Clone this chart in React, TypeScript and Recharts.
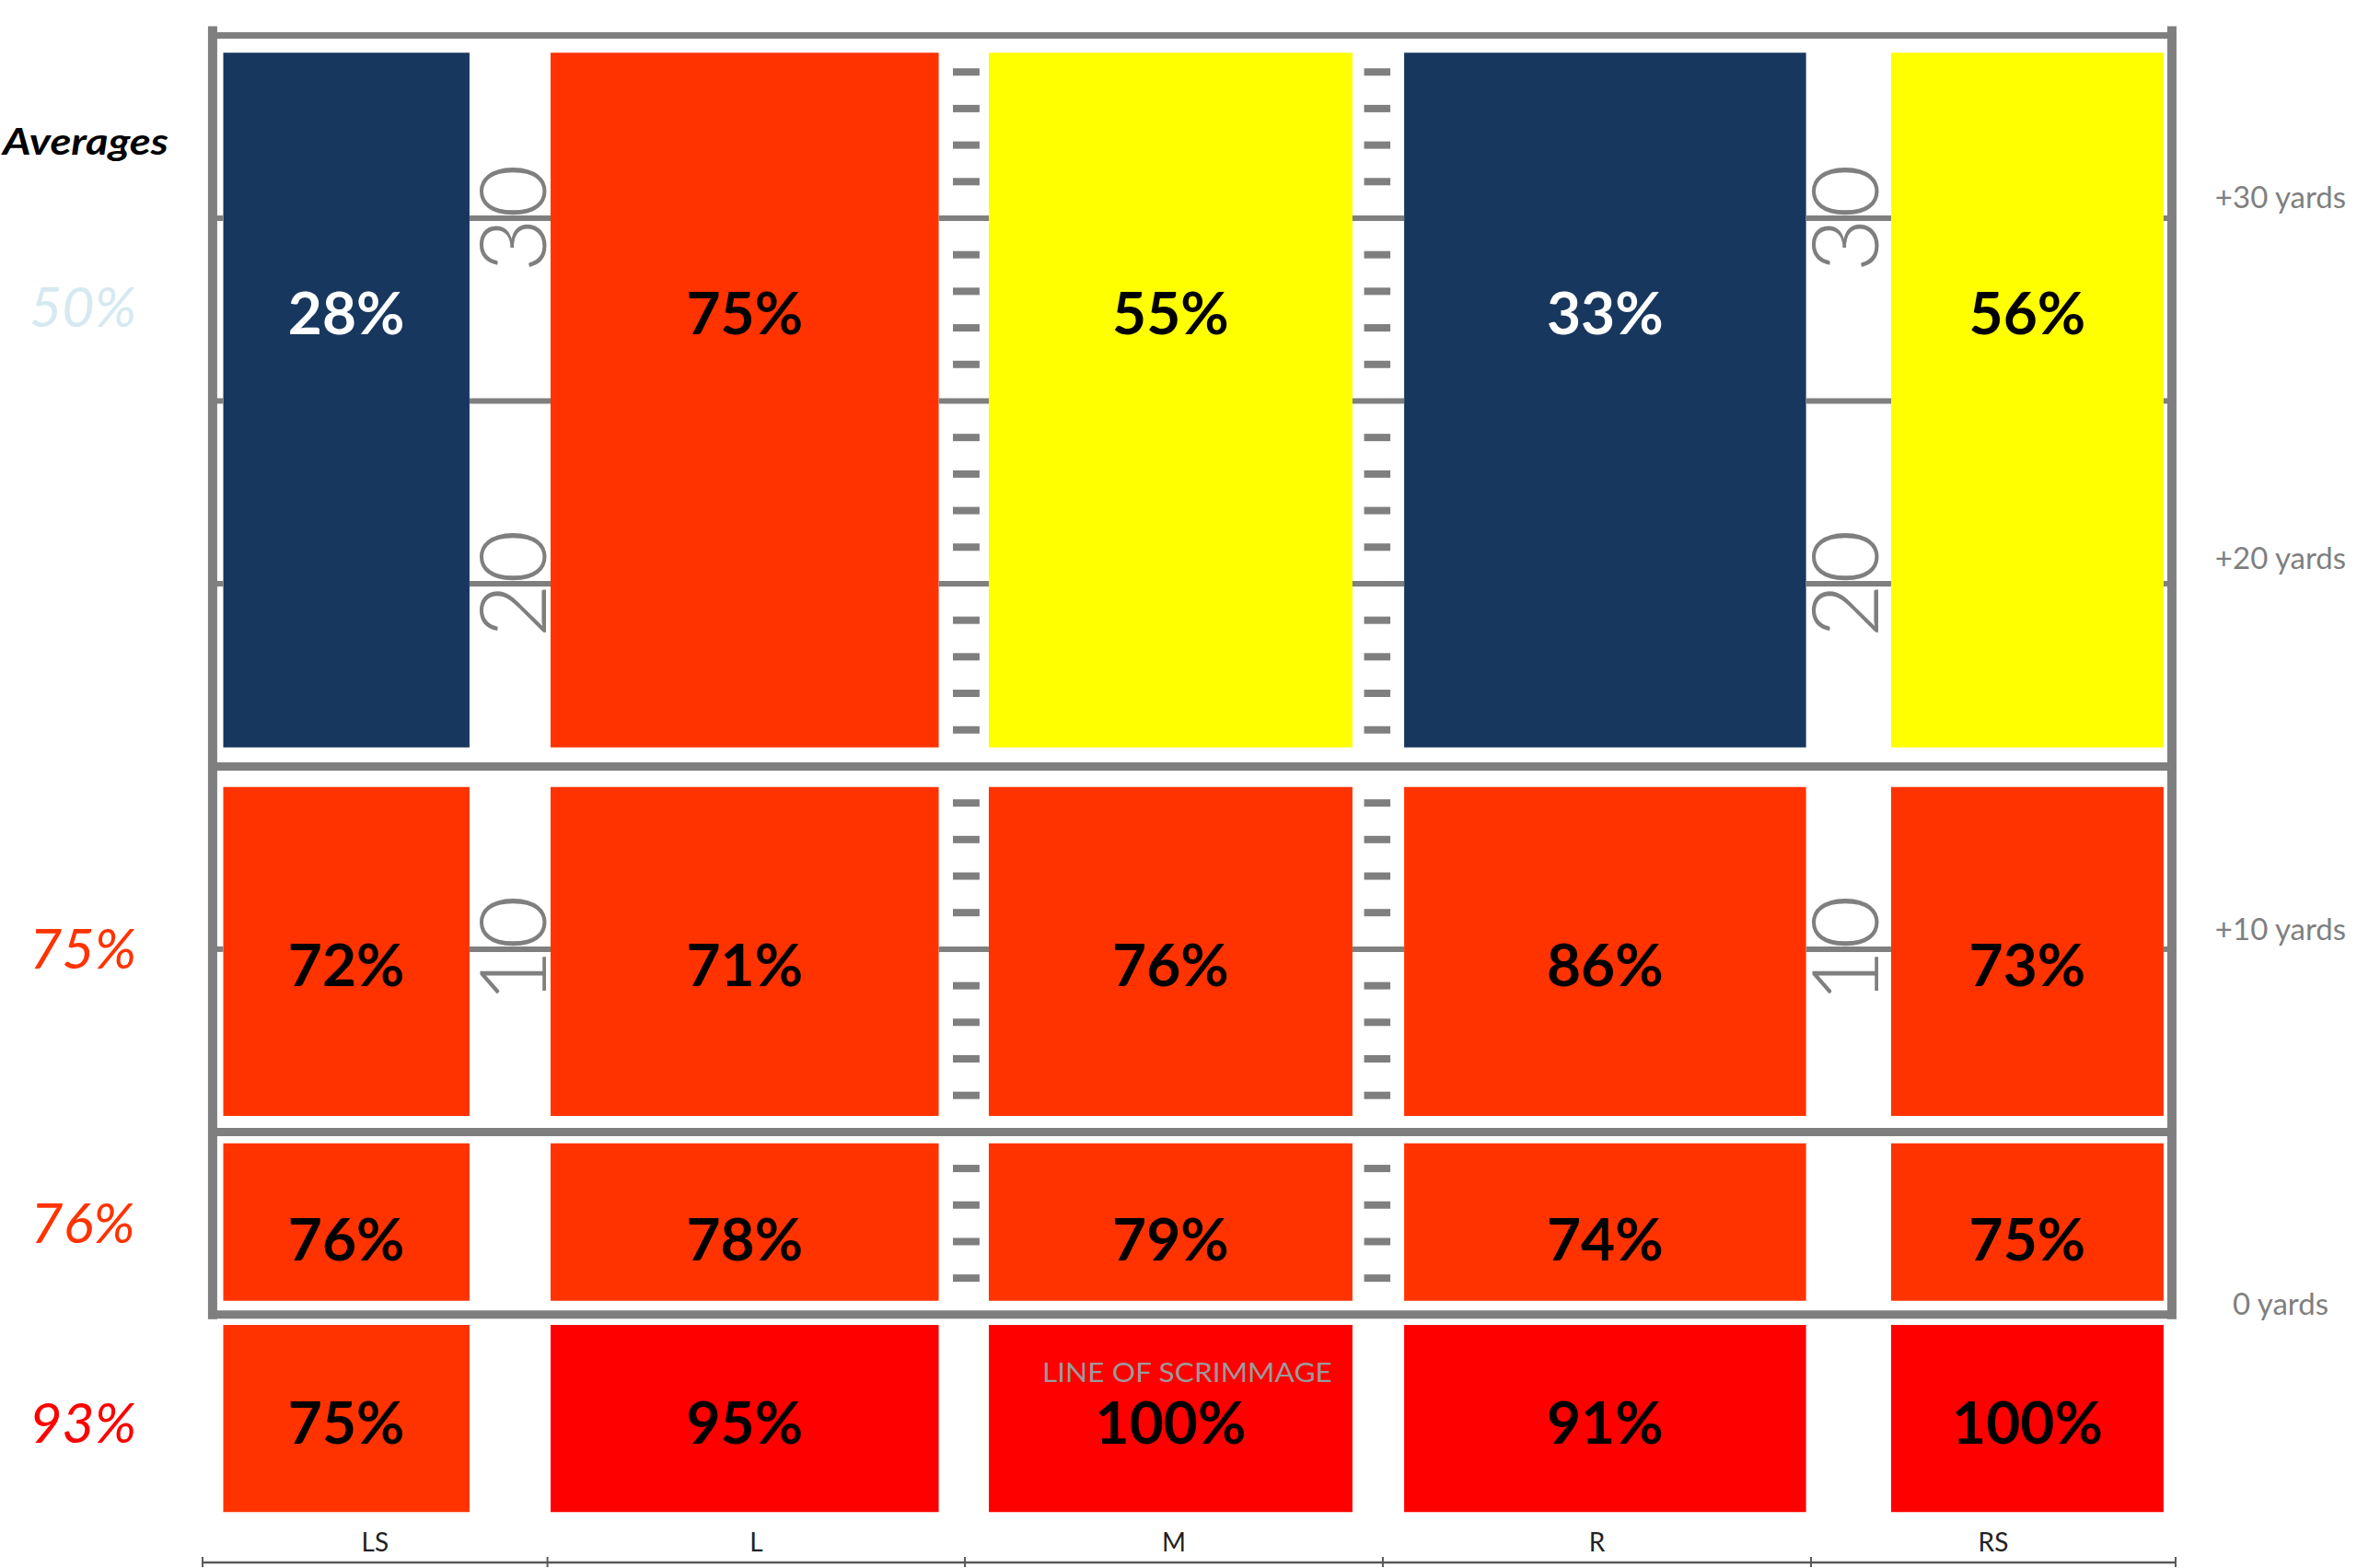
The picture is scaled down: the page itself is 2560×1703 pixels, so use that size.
import React from 'react';
import { ComposedChart, XAxis, YAxis, Scatter, ReferenceArea, ReferenceLine, ReferenceDot } from 'recharts';

// completion % by pass depth (rows) and field zone (columns)
const columns = ['LS', 'L', 'M', 'R', 'RS'];
const deepPct = [28, 75, 55, 33, 56]; // 15+ yards
const shortPct = [72, 71, 76, 86, 73]; // 5-15 yards
const flatPct = [76, 78, 79, 74, 75]; // 0-5 yards
const behindPct = [75, 95, 100, 91, 100]; // behind the line
const rowAverages = [50, 75, 76, 93];
const yardMarkers = ['+30 yards', '+20 yards', '+10 yards', '0 yards'];
const fieldNumbers = [30, 20, 10];

const FONT = "Lato, 'Open Sans', sans-serif";
const GRAY = '#7f7f7f';
const Y_MIN = -6.78;
const Y_MAX = 35.97;

// field layout: x runs 0-100 across the chart, y is yards from the line of scrimmage
const colSpans = [
  [1.05, 13.53],
  [17.64, 37.31],
  [39.85, 58.28],
  [60.9, 81.27],
  [85.58, 99.39],
];
const rowBands = [
  { values: deepPct, top: 34.53, bottom: 15.52, textAt: 27.4, avgAt: 27.58 },
  { values: shortPct, top: 14.44, bottom: 5.44, textAt: 9.57, avgAt: 10.03 },
  { values: flatPct, top: 4.69, bottom: 0.38, textAt: 2.07, avgAt: 2.52 },
  { values: behindPct, top: -0.28, bottom: -5.4, textAt: -2.95, avgAt: -2.96 },
];
const FRAME_L = 0.51;
const FRAME_R = 99.81;
const frameRows = [35, 15, 5, 0];
const yardLines = [30, 25, 20, 10];
const hashCols = [
  [38.03, 39.38],
  [58.87, 60.2],
];
const numberCols = [15.73, 83.25];
const axisBounds = [0, 17.48, 38.64, 59.82, 81.52, 100];
const yardMarkerAt = [30.58, 20.71, 10.55, 0.31];
const AVERAGES_AT = 32.1;
const LOS_TEXT_AT = -1.6;

const cellColor = (v: number) => (v < 40 ? '#17375e' : v < 70 ? '#ffff00' : v < 90 ? '#ff3300' : '#ff0000');
const avgColor = (v: number) => (v < 70 ? '#d6e9f1' : v < 90 ? '#ff3300' : '#ff0000');

const gaps = [
  [FRAME_L, colSpans[0][0]],
  ...colSpans.slice(0, -1).map((c, i) => [c[1], colSpans[i + 1][0]]),
  [colSpans[colSpans.length - 1][1], FRAME_R],
];

const hashYards: number[] = [];
for (let yd = 1; yd < 35; yd++) if (yd % 5 !== 0) hashYards.push(yd);

const xTicks: number[] = [];
axisBounds.forEach((b, i) => {
  xTicks.push(b);
  if (i < axisBounds.length - 1) xTicks.push((b + axisBounds[i + 1]) / 2);
});

// one point per cell, placed where its value label sits
const cellPoints = rowBands.flatMap((row, r) =>
  row.values.map((v, c) => ({ x: (colSpans[c][0] + colSpans[c][1]) / 2, y: row.textAt, v, r, c }))
);

const XTick = (p: any) => {
  const { x, y, index } = p;
  if (index % 2 === 0) {
    return <line x1={x} x2={x} y1={y - 6} y2={y + 5} stroke="#595959" strokeWidth={2} />;
  }
  return (
    <text x={x} y={y - 12} textAnchor="middle" fontFamily={FONT} fontSize={28} fill="#222">
      {columns[(index - 1) / 2]}
    </text>
  );
};

const LeftTick = (p: any) => {
  const { x, y, index } = p;
  if (index === 0) {
    return (
      <text x={x - 127} y={y + 14} textAnchor="middle" fontFamily={FONT} fontWeight={700} fontStyle="italic"
        fontSize={41} fill="#000" textLength={180} lengthAdjust="spacingAndGlyphs">
        Averages
      </text>
    );
  }
  const v = rowAverages[index - 1];
  return (
    <text x={x - 130} y={y + 22} textAnchor="middle" fontFamily={FONT} fontStyle="italic" fontSize={61} fill={avgColor(v)}>
      {v}%
    </text>
  );
};

const RightTick = (p: any) => {
  const { x, y, index } = p;
  return (
    <text x={x + 114} y={y + 12} textAnchor="middle" fontFamily={FONT} fontSize={33} fill={GRAY}>
      {yardMarkers[index]}
    </text>
  );
};

const CellText = (p: any) => {
  const v = p.payload.v;
  return (
    <text x={p.cx} y={p.cy + 23} textAnchor="middle" fontFamily={FONT} fontWeight={700} fontSize={64}
      fill={v < 40 ? '#ffffff' : '#000000'}>
      {v}%
    </text>
  );
};

const fieldNumberText = (n: number) => (p: any) => (
  <text transform={`translate(${p.cx},${p.cy}) rotate(-90)`} x={0} y={36} textAnchor="middle"
    fontFamily={FONT} fontWeight={300} fontSize={101} fill={GRAY}>
    {n}
  </text>
);

const losText = (p: any) => (
  <text x={p.cx + 18} y={p.cy + 10} textAnchor="middle" fontFamily={FONT} fontSize={28} fill="#9a9a9a"
    textLength={315} lengthAdjust="spacingAndGlyphs">
    LINE OF SCRIMMAGE
  </text>
);

export default function App() {
  return (
    <div>
      <style>{'body{margin:0;background:#fff}'}</style>
      <ComposedChart width={2560} height={1703} data={cellPoints} margin={{ top: 0, right: 0, bottom: 0, left: 0 }}>
        <XAxis type="number" dataKey="x" domain={[0, 100]} allowDataOverflow ticks={xTicks} interval={0} height={6}
          tickSize={0} tickMargin={0} tickLine={false} axisLine={{ stroke: '#595959', strokeWidth: 2.5 }} tick={XTick} />
        <YAxis yAxisId="left" type="number" dataKey="y" domain={[Y_MIN, Y_MAX]} allowDataOverflow width={220}
          ticks={[AVERAGES_AT, ...rowBands.map((r) => r.avgAt)]} interval={0}
          tickSize={0} tickMargin={0} tickLine={false} axisLine={false} tick={LeftTick} />
        <YAxis yAxisId="right" orientation="right" type="number" dataKey="y" domain={[Y_MIN, Y_MAX]} allowDataOverflow width={197}
          ticks={yardMarkerAt} interval={0} tickSize={0} tickMargin={0} tickLine={false} axisLine={false} tick={RightTick} />

        {rowBands.map((row, r) =>
          row.values.map((v, c) => (
            <ReferenceArea key={`cell-${r}-${c}`} yAxisId="left" x1={colSpans[c][0]} x2={colSpans[c][1]}
              y1={row.bottom} y2={row.top} fill={cellColor(v)} fillOpacity={1} stroke="none" ifOverflow="visible" />
          ))
        )}

        {yardLines.map((yd) =>
          gaps.map((g, i) => (
            <ReferenceLine key={`yl-${yd}-${i}`} yAxisId="left" segment={[{ x: g[0], y: yd }, { x: g[1], y: yd }]}
              stroke={GRAY} strokeWidth={6} ifOverflow="visible" />
          ))
        )}

        {hashYards.map((yd) =>
          hashCols.map((h, i) => (
            <ReferenceLine key={`hash-${yd}-${i}`} yAxisId="left" segment={[{ x: h[0], y: yd }, { x: h[1], y: yd }]}
              stroke={GRAY} strokeWidth={8} ifOverflow="visible" />
          ))
        )}

        {frameRows.map((yd, i) => (
          <ReferenceLine key={`frame-h-${yd}`} yAxisId="left" segment={[{ x: FRAME_L - 0.2, y: yd }, { x: FRAME_R + 0.2, y: yd }]}
            stroke={GRAY} strokeWidth={i === 0 ? 7 : 9} ifOverflow="visible" />
        ))}
        {[FRAME_L, FRAME_R].map((x) => (
          <ReferenceLine key={`frame-v-${x}`} yAxisId="left" segment={[{ x, y: 35.25 }, { x, y: -0.12 }]}
            stroke={GRAY} strokeWidth={10} ifOverflow="visible" />
        ))}

        {fieldNumbers.map((n) =>
          numberCols.map((x, i) => (
            <ReferenceDot key={`num-${n}-${i}`} yAxisId="left" x={x} y={n} r={1} ifOverflow="visible" shape={fieldNumberText(n)} />
          ))
        )}

        <Scatter yAxisId="left" dataKey="y" isAnimationActive={false} shape={CellText} />

        <ReferenceDot yAxisId="left" x={(colSpans[2][0] + colSpans[2][1]) / 2} y={LOS_TEXT_AT} r={1}
          ifOverflow="visible" shape={losText} />
      </ComposedChart>
    </div>
  );
}
